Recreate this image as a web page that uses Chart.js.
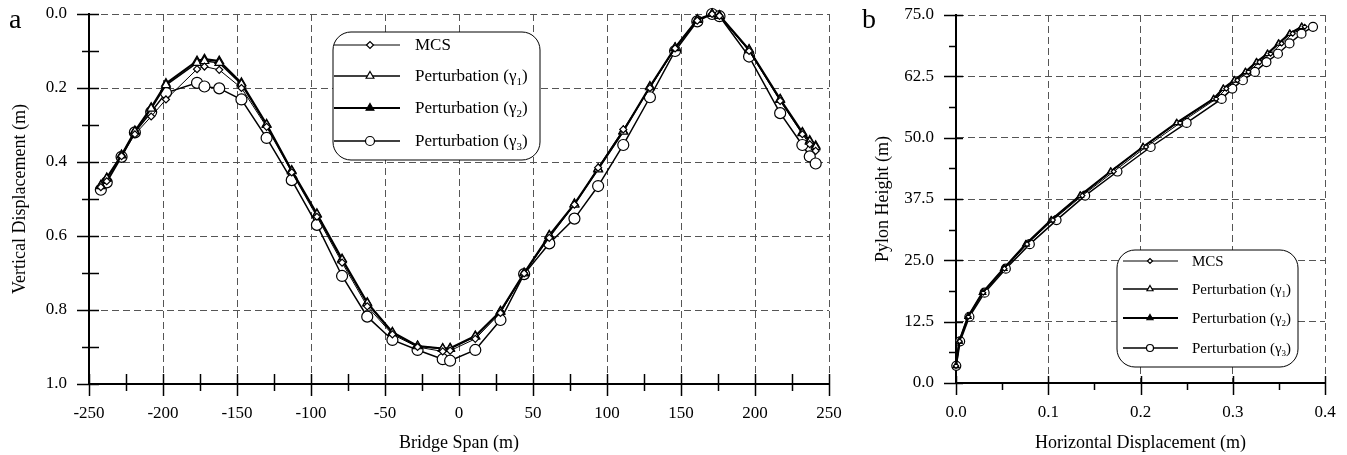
<!DOCTYPE html>
<html><head><meta charset="utf-8">
<script src="https://cdn.jsdelivr.net/npm/chart.js@4"></script>
<style>
html,body{margin:0;padding:0;background:#fff;}
#wrap{position:relative;width:1347px;height:455px;overflow:hidden;background:#fff;}
#ca{position:absolute;left:0;top:0;}
#cb{position:absolute;left:850px;top:0;}
</style></head><body>
<div id="wrap"><canvas id="ca" width="850" height="455"></canvas><canvas id="cb" width="497" height="455"></canvas></div>
<script>
// ---------- Data: panel a (vertical displacement along the span) ----------
const spanA = [-242,-238,-228,-219,-208,-198,-177,-172,-162,-147,-130,-113,-96,-79,-62,-45,-28,-11,-6,11,28,44,61,78,94,111,129,146,161,171,176,196,217,232,237,241];
const mcsA    = [0.468,0.452,0.384,0.325,0.277,0.231,0.149,0.142,0.151,0.200,0.305,0.428,0.548,0.672,0.790,0.866,0.900,0.912,0.910,0.878,0.808,0.701,0.605,0.515,0.415,0.312,0.200,0.093,0.018,0.000,0.005,0.100,0.235,0.325,0.352,0.370];
const gamma1A = [0.465,0.445,0.382,0.318,0.256,0.192,0.132,0.127,0.132,0.190,0.300,0.425,0.542,0.665,0.782,0.862,0.898,0.905,0.905,0.872,0.805,0.701,0.600,0.515,0.420,0.318,0.198,0.092,0.016,0.000,0.005,0.098,0.232,0.322,0.345,0.360];
const gamma2A = [0.463,0.443,0.381,0.316,0.253,0.188,0.127,0.122,0.127,0.186,0.298,0.423,0.540,0.662,0.780,0.860,0.897,0.904,0.903,0.870,0.803,0.700,0.598,0.513,0.418,0.316,0.196,0.091,0.015,0.000,0.004,0.096,0.230,0.320,0.342,0.356];
const gamma3A = [0.475,0.455,0.386,0.320,0.265,0.213,0.186,0.196,0.201,0.231,0.335,0.449,0.570,0.708,0.818,0.881,0.908,0.933,0.937,0.908,0.827,0.703,0.620,0.553,0.465,0.354,0.225,0.100,0.020,0.000,0.006,0.115,0.268,0.354,0.385,0.404];

// ---------- Data: panel b (pylon horizontal displacement) ----------
const heightB = [3.5,8.5,13.5,18.4,23.3,28.3,33.2,38.2,43.1,48.1,53.0,57.9,60.0,61.7,63.4,65.4,67.1,69.2,71.2,72.6];
const mcsB    = [0.0,0.004,0.0135,0.0295,0.0525,0.077,0.105,0.137,0.171,0.206,0.243,0.282,0.293,0.305,0.317,0.329,0.341,0.353,0.365,0.378];
const gamma1B = [0.0,0.0035,0.013,0.029,0.052,0.076,0.1035,0.135,0.168,0.203,0.2395,0.2795,0.290,0.302,0.314,0.326,0.338,0.350,0.362,0.375];
const gamma2B = [0.0,0.0035,0.013,0.0285,0.0515,0.0755,0.103,0.1345,0.1675,0.2025,0.239,0.279,0.2895,0.3015,0.3135,0.3255,0.3375,0.3495,0.3615,0.3745];
const gamma3B = [0.0003,0.0045,0.0145,0.031,0.054,0.080,0.109,0.140,0.175,0.211,0.250,0.288,0.2995,0.311,0.324,0.3365,0.349,0.3615,0.3745,0.387];

const seriesLabels = ['MCS','Perturbation (γ₁)','Perturbation (γ₂)','Perturbation (γ₃)'];
const panelLabels = ['a','b'];
const axisTitlesA = ['Bridge Span (m)','Vertical Displacement (m)'];
const axisTitlesB = ['Horizontal Displacement (m)','Pylon Height (m)'];

// ---------- Styles ----------
const SERIF = "'Liberation Serif','Times New Roman',serif";
const styleA = [
  {pointStyle:'rectRot', radius:3.5, lw:1,   fill:'#fff'},
  {pointStyle:'triangle',radius:5,   lw:1.5, fill:'#fff'},
  {pointStyle:'triangle',radius:5,   lw:2,   fill:'#000'},
  {pointStyle:'circle',  radius:5.5, lw:1.5, fill:'#fff'}
];
const styleB = [
  {pointStyle:'rectRot', radius:2.5, lw:1,   fill:'#fff'},
  {pointStyle:'triangle',radius:3.5, lw:1.5, fill:'#fff'},
  {pointStyle:'triangle',radius:3.5, lw:2,   fill:'#000'},
  {pointStyle:'circle',  radius:4.5, lw:1.5, fill:'#fff'}
];

function makeDatasets(xsList, ysList, styles){
  return seriesLabels.map((lab,i)=>({
    label: lab,
    data: xsList[i].map((x,k)=>({x:x, y:ysList[i][k]})),
    showLine: true,
    borderColor:'#000',
    borderWidth: styles[i].lw,
    backgroundColor: styles[i].fill,
    pointStyle: styles[i].pointStyle,
    pointRadius: styles[i].radius,
    pointHoverRadius: styles[i].radius,
    pointBorderColor:'#000',
    pointBackgroundColor: styles[i].fill,
    pointBorderWidth: 1.2,
    tension: 0,
    clip: false
  }));
}

// ---------- Plugins ----------
const SUB = {'₁':'1','₂':'2','₃':'3'};
function drawRich(ctx, text, x, y, size){
  ctx.textBaseline = 'middle';
  ctx.textAlign = 'left';
  let cx = x;
  let run = '';
  const flush = ()=>{ if(run){ ctx.font = size+'px '+SERIF; ctx.fillText(run, cx, y); cx += ctx.measureText(run).width; run=''; } };
  for (const ch of text){
    if (SUB[ch]){
      flush();
      const s = Math.round(size*0.62);
      ctx.font = s+'px '+SERIF;
      ctx.fillText(SUB[ch], cx, y + size*0.28);
      cx += ctx.measureText(SUB[ch]).width;
    } else run += ch;
  }
  flush();
}
function roundRectPath(ctx,x,y,w,h,r){
  ctx.beginPath();
  ctx.moveTo(x+r,y);
  ctx.arcTo(x+w,y,x+w,y+h,r);
  ctx.arcTo(x+w,y+h,x,y+h,r);
  ctx.arcTo(x,y+h,x,y,r);
  ctx.arcTo(x,y,x+w,y,r);
  ctx.closePath();
}
const roundLegend = {
  id:'roundLegend',
  afterDatasetsDraw(chart, args, o){
    const ctx = chart.ctx;
    ctx.save();
    roundRectPath(ctx,o.x,o.y,o.w,o.h,o.r);
    ctx.fillStyle='#fff'; ctx.fill();
    ctx.lineWidth=1; ctx.strokeStyle='#000'; ctx.stroke();
    chart.data.datasets.forEach((ds,i)=>{
      const yy = o.rows[i];
      ctx.strokeStyle='#000'; ctx.lineWidth = ds.borderWidth;
      ctx.beginPath(); ctx.moveTo(o.lx0,yy); ctx.lineTo(o.lx1,yy); ctx.stroke();
      ctx.fillStyle = ds.pointBackgroundColor; ctx.strokeStyle='#000'; ctx.lineWidth=1.2;
      Chart.helpers.drawPoint(ctx,{pointStyle:ds.pointStyle, radius:o.pr[i], borderWidth:1.2, rotation:0}, o.mx, yy);
      ctx.fillStyle='#000';
      drawRich(ctx, ds.label, o.tx, yy+1, o.size);
    });
    ctx.restore();
  }
};
const minorTicks = {
  id:'minorTicks',
  afterDraw(chart, args, o){
    const {ctx, chartArea:a, scales:{x,y}} = chart;
    ctx.save(); ctx.strokeStyle='#000'; ctx.lineWidth=1.5;
    const nx = Math.round((x.max-x.min)/o.xMinor);
    for(let i=0;i<=nx;i++){
      const px = Math.round(x.getPixelForValue(x.min+i*o.xMinor))+0.5;
      const maj = i%2===0;
      ctx.beginPath();
      ctx.moveTo(px, a.bottom - (maj?o.majIn:o.minIn));
      ctx.lineTo(px, a.bottom + (maj?o.majOut:o.minOut));
      ctx.stroke();
    }
    const ny = Math.round((y.max-y.min)/o.yMinor);
    for(let i=0;i<=ny;i++){
      const py = Math.round(y.getPixelForValue(y.min+i*o.yMinor))+0.5;
      const maj = i%2===0;
      ctx.beginPath();
      ctx.moveTo(a.left - (maj?o.majOut:o.minOut), py);
      ctx.lineTo(a.left + (maj?o.majIn:o.minIn), py);
      ctx.stroke();
    }
    // panel label
    ctx.fillStyle='#000'; ctx.textAlign='left'; ctx.textBaseline='alphabetic';
    ctx.font = o.labelSize+'px '+SERIF;
    ctx.fillText(o.label, o.labelX, o.labelY);
    ctx.restore();
  }
};

function axis(opts, size){
  return Object.assign({
    type:'linear',
    grid:{color:'#555', lineWidth:1, drawTicks:false},
    border:{display:true, color:'#000', width:2, dash:[7,4]},
    afterFit:s=>{
      if (s.isHorizontal()) s.height = size; else s.width = size;
      s.paddingTop = 0; s.paddingBottom = 0; s.paddingLeft = 0; s.paddingRight = 0;
    }
  }, opts);
}

// ---------- Chart a ----------
new Chart(document.getElementById('ca'), {
  type:'scatter',
  data:{datasets: makeDatasets([spanA,spanA,spanA,spanA],[mcsA,gamma1A,gamma2A,gamma3A], styleA)},
  plugins:[roundLegend, minorTicks],
  options:{
    responsive:false, animation:false, events:[],
    layout:{padding:{top:14,right:21,left:0,bottom:0}},
    plugins:{
      legend:{display:false}, tooltip:{enabled:false},
      roundLegend:{x:333,y:32,w:207,h:128,r:18,rows:[45,76,108,141],lx0:334,lx1:400,mx:370,tx:415,size:17,pr:[3.5,4.5,4.5,4.5]},
      minorTicks:{xMinor:25,yMinor:0.1,majOut:12,majIn:10,minOut:7,minIn:10,label:panelLabels[0],labelX:9,labelY:28,labelSize:28}
    },
    scales:{
      x: axis({position:'bottom', min:-250, max:250,
        ticks:{stepSize:50, padding:19, color:'#000', font:{family:SERIF,size:17}, callback:v=>String(v)},
        title:{display:true, text:axisTitlesA[0], color:'#000', font:{family:SERIF,size:18}, padding:{top:0,bottom:1}}
      }, 71),
      y: axis({position:'left', min:0, max:1, reverse:true,
        ticks:{stepSize:0.2, padding:22, color:'#000', font:{family:SERIF,size:17}, callback:v=>Number(v).toFixed(1)},
        title:{display:true, text:axisTitlesA[1], color:'#000', font:{family:SERIF,size:18}, padding:{top:9,bottom:0}}
      }, 89)
    }
  }
});

// ---------- Chart b ----------
new Chart(document.getElementById('cb'), {
  type:'scatter',
  data:{datasets: makeDatasets([mcsB,gamma1B,gamma2B,gamma3B],[heightB,heightB,heightB,heightB], styleB)},
  plugins:[roundLegend, minorTicks],
  options:{
    responsive:false, animation:false, events:[],
    layout:{padding:{top:15,right:22,left:0,bottom:0}},
    plugins:{
      legend:{display:false}, tooltip:{enabled:false},
      roundLegend:{x:267,y:250,w:181,h:117,r:18,rows:[261,289,318,348],lx0:273,lx1:328,mx:300,tx:342,size:15,pr:[2.5,3.5,3.5,3.5]},
      minorTicks:{xMinor:0.05,yMinor:6.25,majOut:12,majIn:7,minOut:7,minIn:0,label:panelLabels[1],labelX:12,labelY:28,labelSize:28}
    },
    scales:{
      x: axis({position:'bottom', min:0, max:0.4,
        ticks:{stepSize:0.1, padding:19, color:'#000', font:{family:SERIF,size:17}, callback:v=>Number(v).toFixed(1)},
        title:{display:true, text:axisTitlesB[0], color:'#000', font:{family:SERIF,size:18}, padding:{top:0,bottom:1}}
      }, 72),
      y: axis({position:'left', min:0, max:75,
        ticks:{stepSize:12.5, padding:22, color:'#000', font:{family:SERIF,size:17}, callback:v=>Number(v).toFixed(1)},
        title:{display:true, text:axisTitlesB[1], color:'#000', font:{family:SERIF,size:18}, padding:{top:22,bottom:0}}
      }, 106)
    }
  }
});
</script>
</body></html>
